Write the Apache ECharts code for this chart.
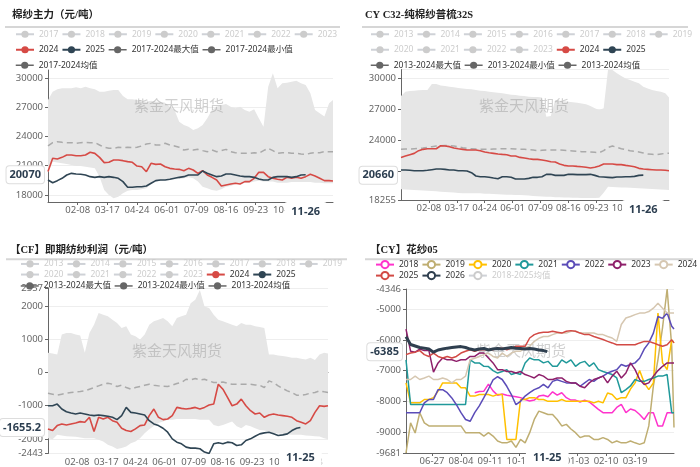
<!DOCTYPE html>
<html>
<head>
<meta charset="utf-8">
<script src="https://cdn.jsdelivr.net/npm/echarts@6/dist/echarts.min.js"></script>
<style>
  html, body { margin: 0; padding: 0; background: #fff; }
  .panel { position: absolute; width: 350px; }
</style>
</head>
<body>
<div id="yarn" class="panel" style="left:0;top:0;height:233px"></div>
<div id="c32" class="panel" style="left:350px;top:0;height:233px"></div>
<div id="profit" class="panel" style="left:0;top:233px;height:234px"></div>
<div id="spread" class="panel" style="left:350px;top:233px;height:234px"></div>
<script>
const STEP = 6;

function dayLabels(y, m, d, n) {
  const out = [];
  for (let i = 0; i < n; i++) {
    const t = new Date(Date.UTC(y, m - 1, d + i));
    out.push(String(t.getUTCMonth() + 1).padStart(2, '0') + '-' + String(t.getUTCDate()).padStart(2, '0'));
  }
  return out;
}
const yearDays = dayLabels(2024, 1, 1, 366);     // 01-01 .. 12-31
const seasonDays = dayLabels(2023, 5, 24, 352);  // 05-24 .. 05-09

// ---- 棉纱主力（元/吨）
const yarnYears = ['2017', '2018', '2019', '2020', '2021', '2022', '2023'];
const yarn2024 = [20400,21760,21690,21860,22100,22100,22030,22030,22100,22380,
  22270,21860,21320,21350,21590,21590,21520,21420,21350,20970,
  20900,20390,21250,21140,21180,20900,20730,20660,20630,20490,
  20730,20560,20220,20490,20050,19810,19540,18920,19030,19130,
  19200,19130,19370,19370,19710,20320,20320,19880,19710,19610,
  19540,19810,19710,19810,19710,19880,20120,19950,19710,19470,
  19470,19430];
const yarn2025 = [19540,19260,19470,19710,20050,20220,20150,20120,20050,19880,
  19810,19880,19810,19880,19810,19710,19370,18790,18790,18850,
  18850,18920,19200,19470,19540,19540,19610,19710,19810,19880,
  20050,20050,20050,20460,20220,20050,19880,19950,20150,20150,
  20050,19950,19880,19880,19810,19640,19540,19540,19810,19880,
  19880,19880,19810,19880,20050,20070];
const yarnMax = [27740,28600,28840,28940,28940,28940,29040,28940,29110,28940,
  28840,28600,28600,28700,28770,28770,28150,27810,27810,27740,
  27670,27570,27670,27570,27570,27470,27060,26720,25520,25180,
  25010,24670,24840,25180,25860,26720,27060,27230,27330,27060,
  26890,27060,26720,26550,26790,25860,25010,29110,30480,28940,
  29450,29520,29620,29730,29450,29280,28430,26720,26380,26040,
  27400,27740];
const yarnMin = [20300,21420,21320,21250,21180,21080,20970,20970,20900,20830,
  20730,19880,18510,18000,17660,17830,18170,18440,18510,18510,
  18580,18680,19130,19370,19470,19540,19610,19610,19640,19710,
  19810,19710,19370,18850,18680,18510,18440,18580,18850,18920,
  19130,19130,19260,19260,19370,19470,19370,19370,19370,19260,
  19260,19260,19330,19330,19330,19330,19330,19260,19260,19200,
  19200,19200];
const yarnMean = [23030,23370,23470,23400,23370,23370,23300,23370,23400,23370,
  23370,23130,22890,22790,22790,22890,22850,22890,22850,22890,
  23030,23230,23300,23130,23130,23300,23130,23030,22890,22610,
  22680,22610,22680,22550,22440,22610,22440,22550,22680,22440,
  22340,22270,22270,22270,22340,22270,22550,22790,22550,22270,
  22340,22340,22270,22270,22200,22170,22270,22340,22340,22440,
  22440,22440];
const yarnTicks = [18000, 21000, 24000, 27000, 30000];

// ---- CY C32-纯棉纱普梳32S
const c32Years = ['2013', '2014', '2015', '2016', '2017', '2018', '2019', '2020', '2021', '2022', '2023'];
const c322024 = [22380,22510,22640,22770,23030,23160,23220,23220,23220,23510,
  23480,23420,23290,23220,23160,23090,23090,23090,23030,22900,
  22830,22770,22710,22670,22640,22510,22510,22380,22320,22250,
  22190,22190,22130,22060,21960,21930,21740,21610,21550,21550,
  21510,21480,21420,21350,21420,21550,21740,21740,21740,21680,
  21680,21610,21550,21480,21320,21250,21220,21190,21160,21160,
  21130,21090];
const c322025 = [21160,21160,21130,21090,21090,21090,21130,21190,21250,21250,
  21220,21160,21160,21090,21090,21060,20900,20580,20510,20510,
  20450,20380,20320,20510,20510,20450,20290,20290,20290,20350,
  20450,20450,20510,20740,20740,20640,20640,20640,20740,20740,
  20710,20710,20710,20740,20640,20510,20480,20450,20420,20480,
  20480,20510,20510,20540,20640,20660];
const c32Max = [28320,28740,28810,28840,28870,28900,28900,29480,29480,29350,
  29290,29230,29160,29100,29060,29000,28970,28900,28840,28810,
  28740,28680,28640,28580,28520,28450,28420,28350,28320,28260,
  28230,28230,28190,26320,26390,27930,27870,27810,27770,27710,
  27680,27610,27520,27350,27130,26970,27130,30890,30840,30520,
  30260,30030,29870,29710,29550,29230,29060,28900,28810,28740,
  28580,28190];
const c32Min = [19290,19260,19240,19220,19200,19180,19160,19130,19100,19060,
  19030,19000,18970,18940,18920,18900,18900,18900,18900,18870,
  18850,18830,18810,18790,18770,18760,18750,18740,18710,18680,
  18650,18620,18600,18580,18560,18530,18510,18500,18490,18480,
  18470,18460,18450,18450,18460,18480,18950,19540,19520,19490,
  19470,19460,19440,19420,19400,19380,19350,19330,19300,19270,
  19240,19220];
const c32Mean = [23160,23190,23190,23220,23250,23290,23350,23420,23480,23510,
  23540,23510,23480,23420,23320,23250,23220,23190,23160,23160,
  23160,23190,23190,23220,23220,23220,23190,23160,23160,23130,
  23090,23030,23060,23090,23090,23090,23090,23060,23030,23000,
  22970,22930,22930,22900,22870,22840,23030,23350,23480,23350,
  23220,23130,23030,22970,22900,22810,22710,22680,22640,22710,
  22770,22770];
const c32Ticks = [18255, 21000, 24000, 27000, 30000, 30890];

// ---- 【CF】即期纺纱利润（元/吨）
const cfYears = ['2013', '2014', '2015', '2016', '2017', '2018', '2019', '2020', '2021', '2022', '2023'];
const cf2024 = [-1700,-1750,-1600,-1550,-1580,-1550,-1520,-1480,-1500,-1350,
  -1780,-1350,-1400,-1350,-1450,-1500,-1680,-1750,-1780,-1700,
  -1600,-1580,-1300,-1100,-1350,-1420,-1400,-1300,-1050,-1080,
  -1100,-1080,-1050,-1100,-1050,-980,-950,-350,-500,-750,
  -1000,-950,-800,-1000,-1150,-1250,-1220,-1350,-1280,-1250,
  -1280,-1300,-1320,-1350,-1450,-1500,-1550,-1450,-1200,-1000,
  -1020,-1000];
const cf2025 = [-1000,-1000,-950,-1100,-1180,-1220,-1250,-1220,-1250,-1280,
  -1300,-1280,-1300,-1320,-1350,-1420,-1300,-1050,-1200,-1220,
  -1250,-1280,-1450,-1550,-1600,-1680,-1800,-2000,-2100,-2150,
  -2250,-2280,-2280,-2300,-2400,-2443,-2150,-2120,-2150,-2100,
  -2120,-2200,-2180,-2050,-2000,-1920,-1850,-1820,-1800,-1850,
  -1900,-1880,-1850,-1750,-1680,-1655.2];
const cfMax = [600,580,550,1150,1200,1200,1150,1120,600,1200,
  1450,1800,1750,1700,1600,1500,1350,1400,1150,1100,
  1000,1150,1450,1550,1600,1650,1550,1400,1650,1700,
  1750,2100,2200,2500,2000,1950,1750,1600,1550,1500,
  1450,1400,1500,1450,1450,1400,1380,1350,550,550,
  520,500,480,450,450,420,400,450,380,550,
  600,580];
const cfMin = [-1980,-2010,-1880,-1900,-1920,-1930,-1940,-1960,-1980,-1980,
  -1980,-2030,-2080,-2180,-2230,-2310,-2280,-2230,-2130,-2080,
  -1980,-1830,-1710,-1610,-1520,-1480,-1420,-1420,-1400,-1400,
  -1400,-1400,-1400,-1420,-1420,-1420,-1580,-1620,-1580,-1530,
  -1480,-1620,-1680,-1580,-1620,-1680,-1730,-1750,-1780,-1830,
  -1840,-1850,-1860,-1880,-1880,-1880,-1900,-1910,-1920,-1930,
  -1980,-2010];
const cfMean = [-620,-650,-680,-650,-620,-600,-580,-570,-550,-500,
  -450,-400,-350,-320,-350,-420,-380,-450,-500,-450,
  -420,-380,-350,-380,-400,-410,-420,-380,-330,-300,
  -200,-220,-180,-220,-200,-250,-300,-300,-280,-320,
  -350,-350,-350,-350,-350,-370,-380,-450,-250,-300,
  -400,-480,-550,-600,-680,-680,-660,-620,-600,-550,
  -580,-600];
const cfTicks = [-2443, -2000, -1000, 0, 1000, 2000, 2557];

// ---- 【CY】花纱05
const spread2018 = [null,null,null,null,null,null,null,null,null,null,
  null,null,null,null,null,-7720,-7680,-7670,-7440,-7660,
  -7800,-7760,-7800,-7830,-7850,-7880,-7940,-7990,-7960,-7830,
  -7800,-7850,-7690,-7800,-7720,-7880,-7960,-7960,-8020,-7960,
  -8020,-8140,-8260,-8370,-8370,-8370,-8200,-8100,-8370,-8250,
  -8300,-8430,-8590,-8370,-8370,-8800,-8800,-8370,-8370,-8370];
const spread2019 = [-9681,-8700,-9030,-8370,-8700,-8800,-8800,-8800,-8800,-8800,
  -8800,-8800,-8800,-9020,-9020,-9020,-9020,-9130,-9020,-9130,
  -9290,-9350,-9350,-9290,-9500,-9240,-9350,-9020,-8590,-8320,
  -8370,-8430,-8430,-8590,-8800,-8750,-8900,-9020,-9180,-9130,
  -9130,-9240,-9240,-9180,-9240,-9350,-9290,-9350,-9350,-9290,
  -9350,-9400,-9350,-8800,-7500,-6640,-5600,-4346,-6210,-8850];
const spread2020 = [-7400,-8050,-8050,-8050,-7940,-7940,-7880,-7670,-7400,-7400,
  -7400,-7400,-7560,-7560,-7830,-7830,-7780,-7780,-7780,-7830,
  -7780,-7780,-9240,-9240,-9240,-7940,-7940,-7880,-7880,-7940,
  -7940,-8000,-8000,-8000,-7940,-8000,-8000,-8000,-8000,-8000,
  -8000,-8050,-8000,-8050,-7730,-7780,-7940,-7880,-7880,-7600,
  -7400,-7000,-7400,-7620,-7400,-5130,-6750,-6970,-6000,-6100];
const spread2021 = [-6650,-8100,-8100,-8100,-8100,-8100,-8100,-8100,-8100,-8100,
  -8100,-8100,-8100,-8100,-6650,-6750,-6750,-6860,-6870,-7000,
  -7080,-7030,-6970,-7130,-7080,-7130,-6750,-6590,-6650,-6650,
  -6750,-6700,-6860,-6860,-6650,-6750,-6650,-6860,-6750,-6700,
  -6860,-6750,-6970,-7030,-7080,-7130,-7240,-7720,-7620,-7500,
  -7290,-7350,-7350,-7290,-7240,-7180,-7180,-7130,-8370,-8370];
const spread2022 = [-8370,-8370,-8370,-8370,-8050,-7940,-7940,-7620,-7620,-7720,
  -7890,-8110,-8370,-8590,-8650,-8370,-8150,-7880,-7600,-7300,
  -7200,-7290,-7510,-7780,-8110,-8000,-7830,-7720,-7620,-7560,
  -7450,-7560,-7350,-7300,-7350,-7400,-7400,-7400,-7510,-7400,
  -7290,-7350,-7240,-7180,-7080,-7020,-6970,-6800,-6860,-6800,
  -6750,-6600,-6300,-6100,-5780,-5240,-5300,-5130,-5560,-5650];
const spread2023 = [-5650,-6370,-6400,-6300,-6350,-6350,-7050,-6750,-6590,-6650,
  -6650,-6700,-6650,-6650,-6540,-6540,-6430,-6430,-6590,-6750,
  -6970,-6970,-7030,-7030,-7080,-7030,-7130,-7180,-7240,-7130,
  -7180,-7290,-7290,-7240,-7240,-7350,-7400,-7400,-7510,-7560,
  -7400,-7290,-7240,-7180,-7400,-7180,-7020,-7240,-7080,-6750,
  -6970,-7290,-7450,-7400,-7180,-7000,-6860,-6750,-6750,-6750];
const spread2024 = [-7290,-7290,-7180,-7290,-7240,-7180,-7290,-7290,-7240,-7290,
  -7400,-7290,-7290,-7180,-6650,-6600,-6540,-6480,-6430,-6540,
  -6590,-6430,-6540,-6430,-6370,-6370,-6260,-6210,-6050,-5950,
  -5890,-5890,-5830,-5780,-5780,-5780,-5720,-5720,-5780,-5780,
  -5780,-5780,-5830,-5830,-5890,-5940,-6050,-5500,-5290,-5240,
  -5180,-5130,-5130,-5080,-4970,-4810,-4970,-5130,-5130,-5130];
const spread2025 = [-6480,-6430,-6400,-6350,-6480,-6540,-6430,-6540,-6590,-6540,
  -6590,-6540,-6430,-6370,-6320,-6370,-6320,-6320,-6320,-6320,
  -6270,-6270,-6320,-6270,-6210,-6210,-6210,-5940,-5830,-5780,
  -5750,-5750,-5720,-5750,-5780,-5720,-5700,-5720,-5780,-5830,
  -5830,-5890,-5940,-5990,-6050,-6100,-6160,-6160,-6160,-6160,
  -6160,-6100,-6050,-6050,-6100,-6160,-6210,-6160,-6000,-6100];
const spread2026 = [-5900,-6150,-6200,-6250,-6270,-6300,-6400,-6330,-6300,-6270,
  -6250,-6230,-6220,-6250,-6300,-6330,-6300,-6280,-6330,-6300,
  -6280,-6300,-6270,-6250,-6270,-6280,-6300,-6280,-6300,-6330,
  -6350,-6385];
const spreadTicks = [-9681, -9000, -8000, -7000, -6000, -5000, -4346];

const FONT = "'Noto Sans', 'Noto Sans CJK SC', sans-serif";
const TITLE_FONT = "'Liberation Serif', 'Noto Sans CJK SC', serif";
const WATERMARK = '紫金天风期货';

// values -> [dayIndex, value]; the last value goes on lastIdx
function pts(arr, lastIdx) {
  return arr
    .map((v, i) => [(i === arr.length - 1 && lastIdx != null) ? lastIdx : i * STEP, v])
    .filter(p => p[1] != null);
}

function decor(title, left, top, line, mark) {
  return {
    title: {
      text: title, left: left, top: top, padding: 0,
      textStyle: {fontSize: 10.5, fontWeight: 'bold', color: '#222', fontFamily: TITLE_FONT}
    },
    graphic: [
      {type: 'line', silent: true, shape: {x1: line[0], y1: line[2], x2: line[1], y2: line[2]},
        style: {stroke: '#d6d6d6', lineWidth: 2}},
      {type: 'text', silent: true, z: 2, x: mark[0], y: mark[1],
        style: {text: WATERMARK, fill: 'rgba(150,150,150,0.45)', font: "15px 'Noto Sans CJK SC'",
          textAlign: 'center', textVerticalAlign: 'middle', align: 'center', verticalAlign: 'middle'}}
    ]
  };
}

function xPointer(idx) {
  return {show: true, type: 'none', value: idx, status: 'show', triggerTooltip: false,
    label: {show: true, color: '#2c3e50', fontWeight: 'bold', fontSize: 11,
      backgroundColor: '#fff', padding: [4, 7, 4, 7], margin: 0}};
}
function yPointer(v) {
  return {show: true, type: 'none', value: v, status: 'show', triggerTooltip: false,
    label: {show: true, formatter: () => String(v), color: '#2c3e50', fontWeight: 'bold', fontSize: 11,
      backgroundColor: '#fff', borderColor: '#ddd', borderWidth: 1, padding: [3, 3, 3, 3], margin: 4}};
}

function xAxisBase(days, every) {
  return {
    type: 'category', data: days, boundaryGap: false,
    axisLine: {lineStyle: {color: '#666'}},
    axisTick: {length: 3, interval: every, lineStyle: {color: '#666'}},
    axisLabel: {interval: every, color: '#666', fontSize: 9.5, margin: 4},
    splitLine: {show: false}
  };
}
function yAxisBase(min, max, ticks, pointerValue) {
  return {
    type: 'value', min: min, max: max,
    axisLine: {show: true, lineStyle: {color: '#666'}},
    axisTick: {show: true, length: 3, customValues: ticks, lineStyle: {color: '#666'}},
    axisLabel: {customValues: ticks, formatter: v => String(v), color: '#666', fontSize: 9.5, margin: 5},
    splitLine: {lineStyle: {color: '#eee'}},
    axisPointer: yPointer(pointerValue)
  };
}

function legendRows(rows, left, tops, selected, fix) {
  return rows.map((row, i) => ({
    data: row.map(n => fix[n] ? Object.assign({name: n}, fix[n]) : n),
    left: left, top: tops[i], padding: 0,
    itemWidth: 18, itemHeight: 9, itemGap: 3,
    selected: Object.assign({}, selected),
    inactiveColor: '#ccc',
    textStyle: {fontSize: 8.5, color: '#333'}
  }));
}

const yearEvery = i => i > 0 && i % 38 === 0;

function seasonalOption(p) {
  const off = {};
  p.greyYears.forEach(y => { off[y] = false; });
  const statIcon = {lineStyle: {width: 1.5, color: '#666', type: 'solid', opacity: 1}, itemStyle: {color: '#666'}};
  const fix = {};
  fix[p.names[0]] = statIcon; fix[p.names[1]] = statIcon; fix[p.names[2]] = statIcon;
  const end = p.days.length - 1;
  const series = p.greyYears.map(y => ({name: y, type: 'line', data: [], symbol: 'circle', showSymbol: false}));
  series.push({
    name: p.names[1], type: 'line', data: pts(p.min, end), stack: 'band', stackStrategy: 'all',
    symbol: 'circle', showSymbol: false, lineStyle: {width: 0}, itemStyle: {color: '#666'}, z: 1, silent: true
  });
  series.push({
    name: p.names[0], type: 'line', data: pts(p.max.map((v, i) => v - p.min[i]), end),
    stack: 'band', stackStrategy: 'all', symbol: 'circle', showSymbol: false,
    lineStyle: {width: 0}, areaStyle: {color: '#e6e6e6', opacity: 1}, itemStyle: {color: '#666'}, z: 1, silent: true
  });
  series.push({
    name: p.names[2], type: 'line', data: pts(p.mean, end), symbol: 'circle', showSymbol: false,
    lineStyle: {width: 1.5, color: '#aaa', type: [6, 4]}, itemStyle: {color: '#666'}, z: 3, silent: true
  });
  series.push({
    name: '2024', type: 'line', data: pts(p.last, end), symbol: 'circle', showSymbol: false,
    lineStyle: {width: 1.6, color: '#d64a45'}, itemStyle: {color: '#d64a45'}, z: 3, silent: true
  });
  series.push({
    name: '2025', type: 'line', data: pts(p.cur, p.curEnd), symbol: 'circle', showSymbol: false,
    lineStyle: {width: 1.6, color: '#2f4554'}, itemStyle: {color: '#2f4554'}, z: 4, silent: true
  });

  const xMain = Object.assign(xAxisBase(p.days, yearEvery), {axisPointer: xPointer(p.curEnd)});
  let xAxis = xMain;
  if (p.zeroLine) {
    xMain.position = 'bottom';
    xMain.axisLine = {show: false, onZero: false};
    xMain.axisTick = {show: false};
    xAxis = [xMain, Object.assign(xAxisBase(p.days, yearEvery), {
      position: 'bottom', axisLine: {onZero: true, lineStyle: {color: '#666'}}, axisLabel: {show: false}
    })];
  }
  return Object.assign(decor(p.title, p.titleLeft, p.titleTop, p.line, p.mark), {
    animation: false,
    textStyle: {fontFamily: FONT},
    legend: legendRows(p.rows, p.legendLeft, p.legendTops, off, fix),
    grid: p.grid,
    xAxis: xAxis,
    yAxis: yAxisBase(p.yMin, p.yMax, p.ticks, p.cur[p.cur.length - 1]),
    series: series
  });
}

const yarnChart = echarts.init(document.getElementById('yarn'));
yarnChart.setOption(seasonalOption({
  title: '棉纱主力（元/吨）', titleLeft: 12, titleTop: 10, line: [5, 340, 27], mark: [179, 105],
  greyYears: yarnYears, names: ['2017-2024最大值', '2017-2024最小值', '2017-2024均值'],
  rows: [yarnYears, ['2024', '2025', '2017-2024最大值', '2017-2024最小值'], ['2017-2024均值']],
  legendLeft: 15, legendTops: [30, 45.5, 61],
  grid: {left: 48, right: 17, top: 70, bottom: 31},
  days: yearDays, max: yarnMax, min: yarnMin, mean: yarnMean, last: yarn2024, cur: yarn2025, curEnd: 330,
  yMin: 17280, yMax: 30820, ticks: yarnTicks
}));

const c32Chart = echarts.init(document.getElementById('c32'));
c32Chart.setOption(seasonalOption({
  title: 'CY C32-纯棉纱普梳32S', titleLeft: 15, titleTop: 10, line: [12, 338, 27], mark: [174, 105],
  greyYears: c32Years, names: ['2013-2024最大值', '2013-2024最小值', '2013-2024均值'],
  rows: [c32Years.slice(0, 7), c32Years.slice(7).concat(['2024', '2025']),
    ['2013-2024最大值', '2013-2024最小值', '2013-2024均值']],
  legendLeft: 20, legendTops: [30, 45.5, 61],
  grid: {left: 51, right: 31, top: 69.5, bottom: 33},
  days: yearDays, max: c32Max, min: c32Min, mean: c32Mean, last: c322024, cur: c322025, curEnd: 330,
  yMin: 18255, yMax: 30890, ticks: c32Ticks
}));

const profitChart = echarts.init(document.getElementById('profit'));
profitChart.setOption(seasonalOption({
  title: '【CF】即期纺纱利润（元/吨）', titleLeft: 10, titleTop: 12.5, line: [6, 347, 26.3], mark: [177, 117],
  greyYears: cfYears, names: ['2013-2024最大值', '2013-2024最小值', '2013-2024均值'],
  rows: [cfYears.slice(0, 7), cfYears.slice(7).concat(['2024', '2025']),
    ['2013-2024最大值', '2013-2024最小值', '2013-2024均值']],
  legendLeft: 20, legendTops: [26.7, 37.3, 48.7],
  grid: {left: 48, right: 22, top: 55, bottom: 13},
  days: yearDays, max: cfMax, min: cfMin, mean: cfMean, last: cf2024, cur: cf2025, curEnd: 329,
  yMin: -2443, yMax: 2557, ticks: cfTicks, zeroLine: true
}));

// 花纱05
const spreadNames = ['2018', '2019', '2020', '2021', '2022', '2023', '2024', '2025', '2026'];
const spreadData = [spread2018, spread2019, spread2020, spread2021, spread2022, spread2023, spread2024, spread2025, spread2026];
const spreadColors = ['#ff33cc', '#bfae72', '#ffc000', '#20999a', '#5b4cb8', '#8e1f6a', '#d6c7b1', '#d24a45', '#2f3f4f'];
const spreadEnd = seasonDays.length - 1;
const spreadSeries = spreadNames.map((name, i) => ({
  name: name, type: 'line', symbol: 'emptyCircle', showSymbol: false, silent: true, z: 3,
  data: pts(spreadData[i], name === '2026' ? 185 : spreadEnd),
  lineStyle: {width: name === '2026' ? 3 : 1.5, color: spreadColors[i]},
  itemStyle: {color: spreadColors[i]}
}));
spreadSeries.push({name: '2018-2025均值', type: 'line', data: [], symbol: 'emptyCircle', showSymbol: false,
  itemStyle: {color: '#999'}});

const spreadEvery = i => i >= 34 && i < 330 && (i - 34) % 38 === 0;
const spreadChart = echarts.init(document.getElementById('spread'));
spreadChart.setOption(Object.assign(decor('【CY】花纱05', 20, 12.5, [15, 343, 26.3], [171, 117]), {
  animation: false,
  textStyle: {fontFamily: FONT},
  legend: legendRows([spreadNames.slice(0, 7), ['2025', '2026', '2018-2025均值']], 25, [27, 38],
    {'2018-2025均值': false}, {}),
  grid: {left: 56, right: 26, top: 56, bottom: 14},
  xAxis: Object.assign(xAxisBase(seasonDays, spreadEvery), {axisPointer: xPointer(185)}),
  yAxis: yAxisBase(-9681, -4346, spreadTicks, spread2026[spread2026.length - 1]),
  series: spreadSeries
}));
</script>
</body>
</html>
